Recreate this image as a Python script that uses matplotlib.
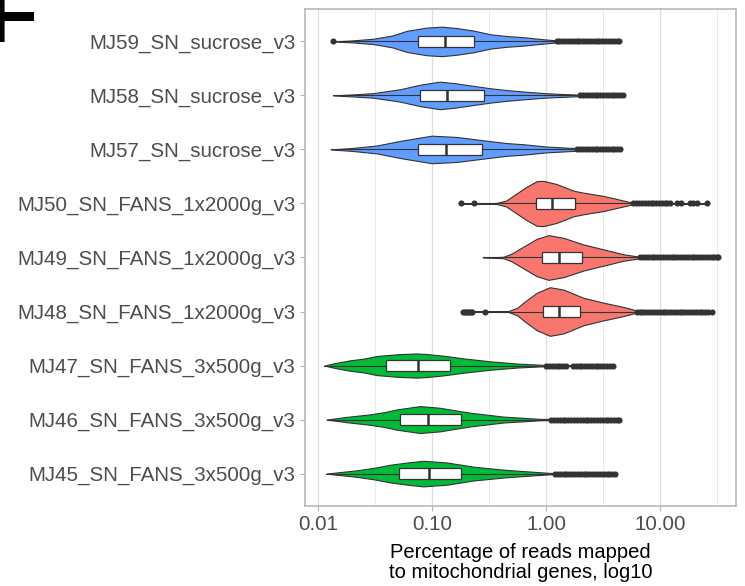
import matplotlib
matplotlib.use("Agg")
import numpy as np
from matplotlib import pyplot as plt
from matplotlib.patches import Rectangle

plt.rcParams['font.family'] = ['Liberation Sans', 'DejaVu Sans']

samples = ["MJ59_SN_sucrose_v3", "MJ58_SN_sucrose_v3", "MJ57_SN_sucrose_v3",
           "MJ50_SN_FANS_1x2000g_v3", "MJ49_SN_FANS_1x2000g_v3", "MJ48_SN_FANS_1x2000g_v3",
           "MJ47_SN_FANS_3x500g_v3", "MJ46_SN_FANS_3x500g_v3", "MJ45_SN_FANS_3x500g_v3"]
groups = ["sucrose"] * 3 + ["FANS_1x2000g"] * 3 + ["FANS_3x500g"] * 3
group_colors = {"FANS_1x2000g": "#F8766D", "FANS_3x500g": "#00BA38", "sucrose": "#619CFF"}

# violin outlines: percentage values and relative density at each
violin_x = [
    [0.0134, 0.020, 0.0305, 0.0447, 0.060, 0.089, 0.122, 0.166, 0.231, 0.324, 0.447, 0.632, 0.891, 1.24, 2.24, 4.37],
    [0.0135, 0.020, 0.0305, 0.0525, 0.0794, 0.117, 0.158, 0.201, 0.324, 0.447, 0.632, 1.0, 1.99, 4.76],
    [0.0129, 0.020, 0.0327, 0.0525, 0.0993, 0.165, 0.282, 0.447, 0.632, 1.0, 1.86, 4.46],
    [0.18, 0.316, 0.37, 0.447, 0.553, 0.676, 0.828, 0.948, 1.24, 1.74, 2.12, 3.18, 4.76, 5.83, 10.0, 25.6],
    [0.278, 0.423, 0.50, 0.632, 0.828, 1.05, 1.42, 2.12, 3.18, 4.76, 6.68, 12.6, 32.4],
    [0.188, 0.468, 0.562, 0.632, 0.828, 1.08, 1.42, 2.12, 3.18, 4.76, 6.24, 12.6, 28.4],
    [0.0114, 0.0141, 0.0191, 0.0251, 0.0327, 0.0501, 0.0735, 0.0897, 0.126, 0.188, 0.323, 0.562, 0.948, 1.58, 3.85],
    [0.0119, 0.0178, 0.0286, 0.038, 0.049, 0.0785, 0.117, 0.158, 0.215, 0.423, 0.891, 2.0, 4.37],
    [0.0118, 0.0218, 0.0316, 0.0429, 0.063, 0.084, 0.135, 0.231, 0.452, 1.08, 2.0, 4.03],
]
violin_d = [
    [0, 1.0, 2.7, 6.0, 10.7, 14.0, 15.0, 13.5, 11.0, 7.3, 5.5, 4.3, 2.5, 1.0, 0.5, 0],
    [0, 1.0, 2.3, 6.3, 11.0, 14.0, 12.5, 10.7, 7.3, 5.5, 4.0, 2.2, 0.7, 0],
    [0, 1.5, 4.0, 8.7, 14.0, 12.7, 9.3, 6.5, 5.3, 3.0, 1.3, 0],
    [0, 0.3, 0.6, 3.0, 10.3, 17.0, 22.7, 23.0, 19.7, 13.0, 11.0, 7.7, 3.0, 0.7, 0.3, 0],
    [0, 0.7, 4.0, 11.0, 19.0, 22.7, 20.0, 13.3, 8.3, 3.3, 0.7, 0.3, 0],
    [0, 0.5, 4.0, 9.0, 19.0, 24.7, 22.3, 14.0, 9.0, 4.7, 1.0, 0.3, 0],
    [0, 2.5, 5.3, 7.0, 9.7, 11.5, 12.3, 11.7, 10.0, 7.3, 4.3, 2.0, 0.7, 0.3, 0],
    [0, 2.7, 5.3, 7.5, 10.3, 13.7, 12.0, 9.5, 7.0, 3.0, 0.7, 0.3, 0],
    [0, 3.3, 6.0, 9.0, 11.5, 13.0, 11.3, 7.0, 3.7, 0.7, 0.3, 0],
]

q1 = [0.076, 0.0786, 0.0748, 0.811, 0.929, 0.948, 0.0394, 0.0527, 0.0511]
med = [0.130, 0.136, 0.132, 1.135, 1.31, 1.30, 0.0748, 0.0923, 0.0935]
q3 = [0.235, 0.288, 0.275, 1.79, 2.07, 2.0, 0.145, 0.18, 0.181]
whisk_lo = [0.0145, 0.0135, 0.0129, 0.26, 0.278, 0.31, 0.0114, 0.0119, 0.0118]
whisk_hi = [1.2, 1.95, 1.85, 5.7, 6.6, 6.1, 0.98, 1.09, 1.17]

outliers = [
    [0.0134, 1.24, 1.31, 1.39, 1.47, 1.56, 1.65, 1.75, 1.85, 1.96, 2.08, 2.20, 2.33, 2.47, 2.62,
     2.77, 2.94, 3.11, 3.30, 3.49, 3.70, 3.92, 4.15, 4.37],
    [1.99, 2.11, 2.23, 2.37, 2.51, 2.66, 2.81, 2.98, 3.16, 3.35, 3.54, 3.75, 3.98, 4.21, 4.46, 4.76],
    [1.88, 1.99, 2.11, 2.23, 2.37, 2.51, 2.66, 2.81, 2.98, 3.16, 3.35, 3.54, 3.75, 3.98, 4.21, 4.46],
    [0.18, 0.235, 5.83, 6.18, 6.54, 6.93, 7.34, 7.78, 8.24, 8.73, 9.25, 9.80, 10.4, 11.0, 11.6, 12.2,
     14.0, 15.1, 18.3, 19.6, 21.2, 25.6],
    [6.68, 7.08, 7.50, 7.94, 8.41, 8.91, 9.44, 10.0, 10.6, 11.2, 11.9, 12.6, 13.3, 14.1, 15.0, 15.9,
     16.8, 17.8, 18.9, 20.0, 21.2, 22.4, 23.8, 25.2, 26.7, 28.3, 29.9, 31.7, 32.4],
    [0.188, 0.195, 0.20, 0.206, 0.212, 0.218, 0.223, 0.292, 6.24, 6.61, 7.00, 7.42, 7.86, 8.32, 8.82,
     9.34, 9.89, 10.5, 11.1, 11.8, 12.5, 13.2, 14.0, 14.8, 15.7, 16.6, 17.6, 18.7, 19.8, 21.0, 22.2,
     23.5, 24.9, 26.4, 28.4],
    [1.0, 1.06, 1.12, 1.19, 1.26, 1.33, 1.41, 1.50, 1.72, 1.82, 1.93, 2.04, 2.16, 2.29, 2.43, 2.57,
     2.72, 2.88, 3.05, 3.23, 3.42, 3.62, 3.85],
    [1.11, 1.18, 1.25, 1.32, 1.40, 1.48, 1.57, 1.66, 1.76, 1.87, 1.98, 2.10, 2.22, 2.35, 2.49, 2.64,
     2.80, 2.96, 3.14, 3.33, 3.52, 3.73, 3.95, 4.19, 4.37],
    [1.2, 1.27, 1.35, 1.43, 1.51, 1.60, 1.70, 1.80, 1.90, 2.02, 2.14, 2.26, 2.40, 2.54, 2.69, 2.85,
     3.02, 3.20, 3.39, 3.59, 3.80, 4.03],
]

x_ticks = [0.01, 0.1, 1, 10]
x_ticklabels = ["0.01", "0.10", "1.00", "10.00"]
x_minor = [10 ** -1.5, 10 ** -0.5, 10 ** 0.5, 10 ** 1.5]

dark = "#333333"
fig = plt.figure(figsize=(7.45, 5.86), dpi=100)
ax = fig.add_axes([305 / 745, 1 - 506 / 586, 431 / 745, 497 / 586])
ax.set_xscale("log")

max_d = max(max(d) for d in violin_d)
n = len(samples)
for i in range(n):
    y = n - i
    vx = np.array(violin_x[i])
    hw = np.array(violin_d[i]) / max_d * 0.45
    ax.fill_between(vx, y - hw, y + hw, facecolor=group_colors[groups[i]],
                    edgecolor=dark, linewidth=0.8, zorder=2)
    ax.plot([whisk_lo[i], q1[i]], [y, y], color=dark, lw=0.8, zorder=3)
    ax.plot([q3[i], whisk_hi[i]], [y, y], color=dark, lw=0.8, zorder=3)
    ax.add_patch(Rectangle((q1[i], y - 0.1), q3[i] - q1[i], 0.2, facecolor="white",
                           edgecolor=dark, linewidth=0.9, zorder=4))
    ax.plot([med[i], med[i]], [y - 0.1, y + 0.1], color=dark, lw=1.8, zorder=5,
            solid_capstyle="butt")
    ax.plot(outliers[i], [y] * len(outliers[i]), "o", color=dark, ms=4.4, mew=0, zorder=6)

ax.set_xlim(0.00769, 46.3)
ax.set_ylim(0.4, n + 0.6)
ax.set_xticks(x_ticks)
ax.set_xticklabels(x_ticklabels)
ax.set_xticks(x_minor, minor=True)
ax.set_yticks(range(n, 0, -1))
ax.set_yticklabels(samples)

ax.tick_params(axis="both", which="major", length=3.8, width=0.8, color="#B3B3B3",
               labelsize=14.8, labelcolor="#4D4D4D", pad=3)
ax.tick_params(axis="x", which="minor", length=0)
ax.xaxis.grid(True, which="major", color="#DEDEDE", lw=0.9, zorder=0)
ax.xaxis.grid(True, which="minor", color="#E6E6E6", lw=0.6, zorder=0)
ax.set_axisbelow(True)
for s in ax.spines.values():
    s.set_color("#B3B3B3")
    s.set_linewidth(1.1)

ax.set_xlabel("Percentage of reads mapped\nto mitochondrial genes, log10", fontsize=14.5,
              color="black", labelpad=6, linespacing=1.1)

fig.text(-14 / 745, 1 - 42 / 586, "F", fontsize=60, fontweight="bold", ha="left",
         va="baseline", color="black")

fig.savefig("out.png", dpi=100)
